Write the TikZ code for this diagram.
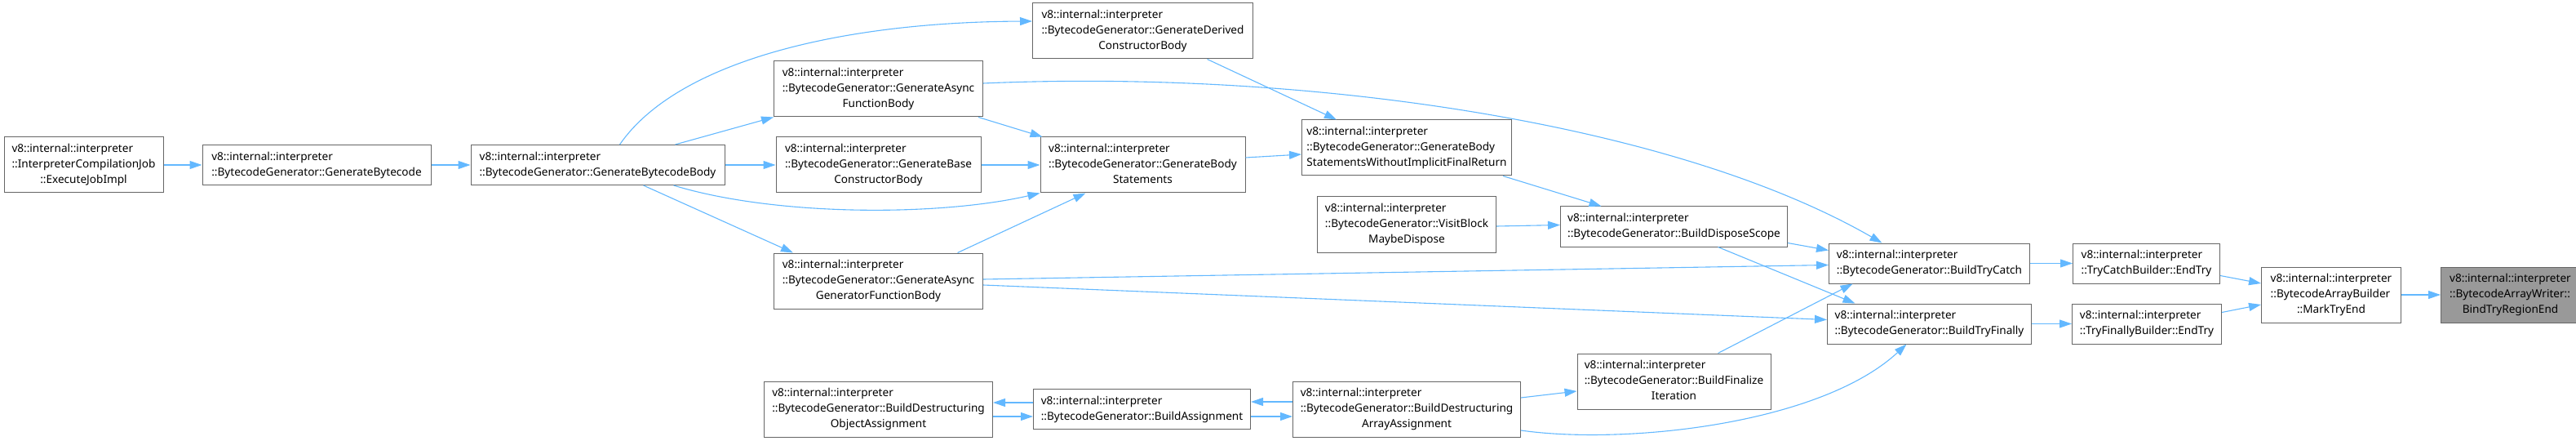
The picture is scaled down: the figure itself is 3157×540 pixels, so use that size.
\documentclass[tikz,border=0pt]{standalone}
\usepackage{fontspec}
\setmainfont{Noto Sans}
\usetikzlibrary{arrows.meta, positioning}
\definecolor{edgeblue}{HTML}{63B8FF}
\definecolor{boxline}{HTML}{666666}
\definecolor{hitfill}{HTML}{999999}
\newcommand{\twoline}[2]{\begin{tabular}{@{}l@{}}#1\\#2\end{tabular}}
\newcommand{\threeline}[3]{\begin{tabular}{@{}l@{}}#1\\#2\\\multicolumn{1}{@{}c@{}}{#3}\end{tabular}}
\tikzset{box/.style={rectangle,draw=boxline,line width=1pt,fill=white,inner xsep=0pt,inner ysep=0pt,minimum height=49pt,font=\fontsize{13.6pt}{19pt}\selectfont},tallbox/.style={box,minimum height=68pt},line/.style={-{Triangle[length=15pt,width=10pt]},draw=edgeblue,line width=1.1pt}}

\begin{document}
\begin{tikzpicture}[x=1pt,y=-1pt,node distance=48pt]
\useasboundingbox (0,0) rectangle (3157,540);
\node[tallbox, minimum width=195pt] (exec) at (102.5,202) {\threeline{v8::internal::interpreter}{::InterpreterCompilationJob}{::ExecuteJobImpl}};
\node[box, minimum width=280pt, right=47pt of exec] (gbc) {\twoline{v8::internal::interpreter}{::BytecodeGenerator::GenerateBytecode}};
\node[box, minimum width=311pt, right=of gbc] (gbb) {\twoline{v8::internal::interpreter}{::BytecodeGenerator::GenerateBytecodeBody}};
\node[tallbox, minimum width=251pt, right=62pt of gbb] (gbcb) {\threeline{v8::internal::interpreter}{::BytecodeGenerator::GenerateBase}{ConstructorBody}};
\node[tallbox, minimum width=256pt, above=24pt of gbcb] (gaf) {\threeline{v8::internal::interpreter}{::BytecodeGenerator::GenerateAsync}{FunctionBody}};
\node[tallbox, minimum width=256pt, below=73pt of gbcb] (gag) {\threeline{v8::internal::interpreter}{::BytecodeGenerator::GenerateAsync}{GeneratorFunctionBody}};
\node[tallbox, minimum width=251pt, right=72pt of gbcb] (gbs) {\threeline{v8::internal::interpreter}{::BytecodeGenerator::GenerateBody}{Statements}};
\node[tallbox, minimum width=270pt, above=95pt of gbs] (gdc) {\threeline{v8::internal::interpreter}{::BytecodeGenerator::GenerateDerived}{ConstructorBody}};
\node[tallbox, minimum width=257pt, below right=74pt and 59pt of gdc] (gbsw) {\threeline{v8::internal::interpreter}{::BytecodeGenerator::GenerateBody}{StatementsWithoutImplicitFinalReturn}};
\node[tallbox, minimum width=219pt, below=25pt of gbsw] (vbm) {\threeline{v8::internal::interpreter}{::BytecodeGenerator::VisitBlock}{MaybeDispose}};
\node[tallbox, minimum width=279pt, below=157pt of vbm] (bdaa) {\threeline{v8::internal::interpreter}{::BytecodeGenerator::BuildDestructuring}{ArrayAssignment}};
\node[box, minimum width=266pt, left=51pt of bdaa] (ba) {\twoline{v8::internal::interpreter}{::BytecodeGenerator::BuildAssignment}};
\node[tallbox, minimum width=280pt, left=49pt of ba] (bdoa) {\threeline{v8::internal::interpreter}{::BytecodeGenerator::BuildDestructuring}{ObjectAssignment}};
\node[box, minimum width=278pt, below right=37pt and 59pt of gbsw] (bds) {\twoline{v8::internal::interpreter}{::BytecodeGenerator::BuildDisposeScope}};
\node[tallbox, minimum width=237pt, below=130pt of bds] (bfi) {\threeline{v8::internal::interpreter}{::BytecodeGenerator::BuildFinalize}{Iteration}};
\node[box, minimum width=246pt, below right=-5pt and 50pt of bds] (btc) {\twoline{v8::internal::interpreter}{::BytecodeGenerator::BuildTryCatch}};
\node[box, minimum width=250pt, below=24pt of btc] (btf) {\twoline{v8::internal::interpreter}{::BytecodeGenerator::BuildTryFinally}};
\node[box, minimum width=180pt, right=52pt of btc] (tce) {\twoline{v8::internal::interpreter}{::TryCatchBuilder::EndTry}};
\node[box, minimum width=183pt, right=49pt of btf] (tfe) {\twoline{v8::internal::interpreter}{::TryFinallyBuilder::EndTry}};
\node[tallbox, minimum width=171pt, below right=-21pt and 50pt of tce] (mte) {\threeline{v8::internal::interpreter}{::BytecodeArrayBuilder}{::MarkTryEnd}};
\node[tallbox, minimum width=170pt, fill=hitfill, right=of mte] (btre) {\threeline{v8::internal::interpreter}{::BytecodeArrayWriter::}{BindTryRegionEnd}};
\draw[line] (exec) -- (gbc);
\draw[line] (gbc) -- (gbb);
\draw[line] ([xshift=27pt]gbb.north) .. controls (830,75) and (1030,27) .. ([yshift=12pt]gdc.west);
\draw[line] ([xshift=95pt]gbb.north) -- (gaf.south west);
\draw[line] (gbb) -- (gbcb);
\draw[line] ([xshift=93pt]gbb.south) .. controls (950,265) and (1150,265) .. (gbs.south west);
\draw[line] ([xshift=56pt]gbb.south) -- ([xshift=24pt]gag.north west);
\draw[line] ([xshift=-6pt]gaf.south east) -- ([xshift=3pt]gbs.north west);
\draw[line] (gbcb) -- (gbs);
\draw[line] ([xshift=97pt]gag.north) -- ([xshift=-70pt]gbs.south);
\draw[line] ([xshift=79pt]gdc.south) -- ([xshift=-86pt]gbsw.north);
\draw[line] ([yshift=9pt]gbs.east) -- ([yshift=-8pt]gbsw.west);
\draw[line] ([xshift=118pt]gbsw.south) -- ([xshift=-89pt]bds.north);
\draw[line] ([yshift=-2pt]vbm.east) -- ([yshift=2pt]bds.west);
\draw[line] ([yshift=7pt]gaf.east) .. controls (1600,85) and (2050,150) .. ([xshift=-58pt]btc.north);
\draw[line] ([yshift=-20pt]bds.east) -- ([yshift=16pt]btc.west);
\draw[line] ([xshift=54pt]bds.south) -- ([xshift=-91pt]btf.north);
\draw[line] ([yshift=2pt]gag.east) -- ([yshift=-2pt]btc.west);
\draw[line] ([yshift=-5pt]gag.east) -- ([yshift=5pt]btf.west);
\draw[line] ([xshift=54pt]bfi.north) -- ([xshift=-94pt]btc.south);
\draw[line] ([yshift=-26pt]bdaa.east) .. controls (1990,545) and (2230,520) .. ([xshift=-28pt]btf.south);
\draw[line] ([yshift=14pt]bdaa.east) -- ([yshift=-12pt]bfi.west);
\draw[line] ([yshift=8pt]ba.west) -- ([yshift=8pt]bdoa.east);
\draw[line] ([yshift=-9pt]bdoa.east) -- ([yshift=-9pt]ba.west);
\draw[line] ([yshift=9pt]bdaa.west) -- ([yshift=9pt]ba.east);
\draw[line] ([yshift=-9pt]ba.east) -- ([yshift=-9pt]bdaa.west);
\draw[line] (btc) -- (tce);
\draw[line] (btf) -- (tfe);
\draw[line] ([yshift=-15pt]tce.east) -- ([yshift=14pt]mte.west);
\draw[line] ([yshift=14pt]tfe.east) -- ([yshift=-12pt]mte.west);
\draw[line] (mte) -- (btre);
\end{tikzpicture}
\end{document}
